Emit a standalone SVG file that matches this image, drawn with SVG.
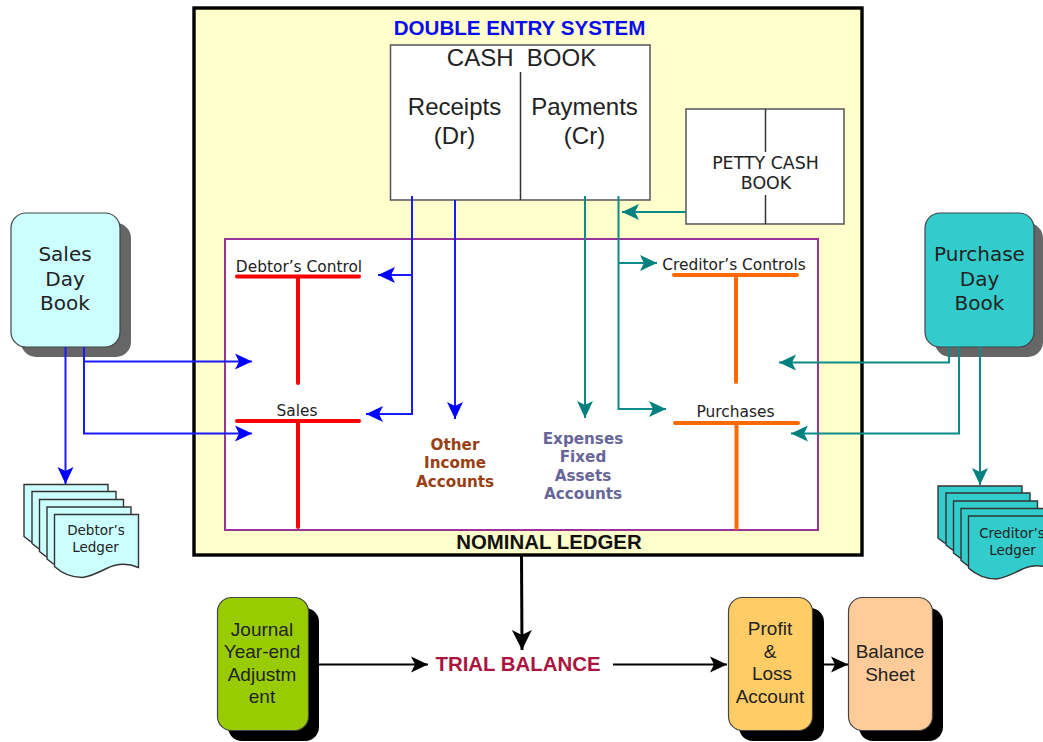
<svg xmlns="http://www.w3.org/2000/svg" xmlns:xlink="http://www.w3.org/1999/xlink" width="1043" height="742" viewBox="0 0 1043 742">
<style>
text{text-anchor:middle;fill:#222}
.ar{font-family:"Liberation Sans",Arial,sans-serif}
.ta{font-family:"DejaVu Sans",Verdana,sans-serif}
.ve{font-family:"DejaVu Sans",Verdana,sans-serif;font-weight:700;font-size:15.200px}
.book{font-size:20px}
.big{font-size:24px}
.acc{font-size:15.400px}
.mid{font-size:19px}
.b{fill:none;stroke:#1a1aff;stroke-width:2}
.t{fill:none;stroke:#0f8a8a;stroke-width:2}
.k{fill:none;stroke:#000;stroke-width:2}
.box{stroke:#444;stroke-width:1.2}
.red{stroke:#ff0000;stroke-width:4;stroke-linecap:round;fill:none}
.org{stroke:#ff6a00;stroke-width:4;stroke-linecap:round;fill:none}
</style>
<defs>
<marker id="mb" markerUnits="userSpaceOnUse" markerWidth="20" markerHeight="20" refX="17" refY="8" orient="auto" viewBox="0 0 20 16"><path d="M0 0L17 8L0 16L4 8Z" fill="#0000ff"/></marker>
<marker id="mt" markerUnits="userSpaceOnUse" markerWidth="20" markerHeight="20" refX="17" refY="8" orient="auto" viewBox="0 0 20 16"><path d="M0 0L17 8L0 16L4 8Z" fill="#008080"/></marker>
<marker id="mk" markerUnits="userSpaceOnUse" markerWidth="20" markerHeight="20" refX="17" refY="8" orient="auto" viewBox="0 0 20 16"><path d="M0 0L17 8L0 16L4 8Z" fill="#000"/></marker>
<marker id="mk2" markerUnits="userSpaceOnUse" markerWidth="24" markerHeight="24" refX="20" refY="10" orient="auto" viewBox="0 0 24 20"><path d="M0 0L20 10L0 20L5 10Z" fill="#000"/></marker>
<path id="pg" d="M0 0H84V53Q68 46 52 54T28 63Q12 63 0 52Z" stroke="#333" stroke-width="1.4"/>
</defs>

<g id="double-entry">
<rect x="194" y="8" width="668" height="547" fill="#ffffcc" stroke="#000" stroke-width="3.4"/>
<text class="ar" x="519.500" y="35" font-size="20.600" font-weight="700" style="fill:#0a0aee">DOUBLE ENTRY SYSTEM</text>
</g>
<g id="nominal-ledger">
<rect x="225" y="239" width="593" height="291" fill="#fff" stroke="#993399" stroke-width="2"/>
<text class="ar" x="549" y="549" font-size="20.400" font-weight="700" style="fill:#111">NOMINAL LEDGER</text>
</g>
<g id="cash-book">
<rect x="390.500" y="45" width="259.500" height="155" fill="#fff" stroke="#555" stroke-width="1.500"/>
<path d="M520.500 72V200" stroke="#333" stroke-width="1.500"/>
<text class="ar big" x="521.500" y="65.500" xml:space="preserve">CASH  BOOK</text>
<text class="ar big" x="454.500" y="114.500">Receipts</text>
<text class="ar big" x="454.500" y="144">(Dr)</text>
<text class="ar big" x="584.500" y="114.500">Payments</text>
<text class="ar big" x="584.500" y="144">(Cr)</text>
</g>
<g id="petty-cash-book">
<rect x="686" y="109" width="158" height="115" fill="#fff" stroke="#555" stroke-width="1.500"/>
<path d="M765.500 109V152M765.500 195V224" stroke="#333" stroke-width="1.500"/>
<text class="ta" x="765.500" y="168.500" font-size="17.400">PETTY CASH</text>
<text class="ta" x="766" y="189" font-size="17.400">BOOK</text>
</g>

<g id="sales-day-book">
<rect x="21" y="223" width="110" height="134" rx="15" fill="#666"/>
<rect x="11" y="213" width="109" height="134" rx="15" fill="#ccffff" class="box"/>
<text class="ta book" x="65" y="261">Sales</text>
<text class="ta book" x="65" y="286">Day</text>
<text class="ta book" x="65" y="310">Book</text>
</g>
<g id="purchase-day-book">
<rect x="935" y="223" width="108" height="134" rx="15" fill="#666"/>
<rect x="925" y="213" width="109" height="134" rx="15" fill="#33cccc" class="box"/>
<text class="ta book" x="979.500" y="261">Purchase</text>
<text class="ta book" x="979.500" y="286">Day</text>
<text class="ta book" x="979.500" y="310">Book</text>
</g>

<g id="debtors-ledger" fill="#ccffff">
<use xlink:href="#pg" x="24" y="484.500"/>
<use xlink:href="#pg" x="32" y="491.500"/>
<use xlink:href="#pg" x="39.500" y="499.500"/>
<use xlink:href="#pg" x="47" y="507"/>
<use xlink:href="#pg" x="54.500" y="514.500"/>
<text class="ta" x="96" y="535" font-size="13.500">Debtor’s</text>
<text class="ta" x="95.500" y="552" font-size="13.500">Ledger</text>
</g>
<g id="creditors-ledger" fill="#33cccc">
<use xlink:href="#pg" x="938" y="486"/>
<use xlink:href="#pg" x="946" y="493"/>
<use xlink:href="#pg" x="953.500" y="501"/>
<use xlink:href="#pg" x="961" y="508.500"/>
<use xlink:href="#pg" x="968.500" y="516"/>
<text class="ta" x="1012" y="538" font-size="13.500">Creditor’s</text>
<text class="ta" x="1012.500" y="555" font-size="13.500">Ledger</text>
</g>

<g id="debtors-control">
<path class="red" d="M237 276.500H359M298 276.500V383"/>
<text class="ta acc" x="299" y="272">Debtor’s Control</text>
</g>
<g id="sales">
<path class="red" d="M237 421H359M298 421V527"/>
<text class="ta acc" x="297" y="415.500">Sales</text>
</g>
<g id="creditors-controls">
<path class="org" d="M674 275H797M736 275V382"/>
<text class="ta acc" x="734" y="270">Creditor’s Controls</text>
</g>
<g id="purchases">
<path class="org" d="M675 423H798M736.500 423V528"/>
<text class="ta acc" x="735.500" y="417">Purchases</text>
</g>
<g id="other-income">
<text class="ve" x="455" y="450" style="fill:#993f13">Other</text>
<text class="ve" x="455" y="468" style="fill:#993f13">Income</text>
<text class="ve" x="455" y="486.500" style="fill:#993f13">Accounts</text>
</g>
<g id="expenses">
<text class="ve" x="583" y="444" style="fill:#666699">Expenses</text>
<text class="ve" x="583" y="462" style="fill:#666699">Fixed</text>
<text class="ve" x="583" y="481" style="fill:#666699">Assets</text>
<text class="ve" x="583" y="499" style="fill:#666699">Accounts</text>
</g>

<g id="journal">
<rect x="228" y="608" width="91" height="133" rx="14" fill="#000"/>
<rect x="217.500" y="597.500" width="91" height="133" rx="14" fill="#99cc00" class="box"/>
<text class="ar mid" x="262" y="635.500">Journal</text>
<text class="ar mid" x="262" y="658">Year-end</text>
<text class="ar mid" x="262" y="680.500">Adjustm</text>
<text class="ar mid" x="262" y="703">ent</text>
</g>
<g id="trial-balance">
<text class="ar" x="518" y="671" font-size="20.400" font-weight="700" style="fill:#aa1540">TRIAL BALANCE</text>
</g>
<g id="profit-loss">
<rect x="739" y="608" width="85" height="133" rx="14" fill="#000"/>
<rect x="728.500" y="597.500" width="84" height="133" rx="14" fill="#ffcc66" class="box"/>
<text class="ar mid" x="770" y="635">Profit</text>
<text class="ar mid" x="770" y="658">&amp;</text>
<text class="ar mid" x="772" y="680">Loss</text>
<text class="ar mid" x="770" y="703">Account</text>
</g>
<g id="balance-sheet">
<rect x="859" y="608" width="84" height="133" rx="14" fill="#000"/>
<rect x="848.500" y="597.500" width="84" height="133" rx="14" fill="#ffcc99" class="box"/>
<text class="ar mid" x="890" y="658">Balance</text>
<text class="ar mid" x="890" y="680.500">Sheet</text>
</g>

<g id="connectors">
<path class="b" d="M65.500 347V484" marker-end="url(#mb)"/>
<path class="b" d="M84 347V361.500H252" marker-end="url(#mb)"/>
<path class="b" d="M84 347V433.500H252" marker-end="url(#mb)"/>
<path class="b" d="M412 196V414H366" marker-end="url(#mb)"/>
<path class="b" d="M412 275H378" marker-end="url(#mb)"/>
<path class="b" d="M455 200V419" marker-end="url(#mb)"/>
<path class="t" d="M585 196V418" marker-end="url(#mt)"/>
<path class="t" d="M618.500 196V409H666" marker-end="url(#mt)"/>
<path class="t" d="M618.500 263H657" marker-end="url(#mt)"/>
<path class="t" d="M686 212H622" marker-end="url(#mt)"/>
<path class="t" d="M949 347V362.500H779" marker-end="url(#mt)"/>
<path class="t" d="M959 347V433.500H791" marker-end="url(#mt)"/>
<path class="t" d="M980 347V485" marker-end="url(#mt)"/>
<path class="k" d="M521.500 555L522 650" style="stroke-width:3" marker-end="url(#mk2)"/>
<path class="k" d="M319 664.500H428" marker-end="url(#mk)"/>
<path class="k" d="M613 664.500H727" marker-end="url(#mk)"/>
<path class="k" d="M824 664.500H848" marker-end="url(#mk)"/>
</g>
</svg>
